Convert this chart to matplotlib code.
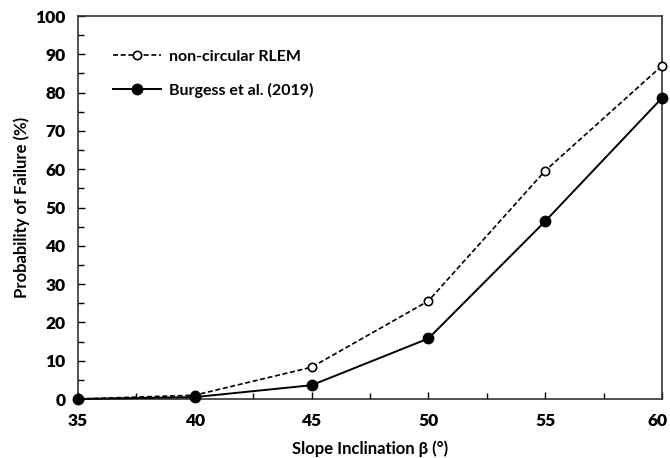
"""Probability of failure vs slope inclination"""

import matplotlib.pyplot as plt
from matplotlib.ticker import MultipleLocator
from matplotlib.transforms import ScaledTranslation

plt.rcParams['font.family'] = ['Lato', 'DejaVu Sans']
plt.rcParams['font.weight'] = 'bold'

slope = [35, 40, 45, 50, 55, 60]
rlem = [0, 1.0, 8.3, 25.6, 59.6, 87.0]
burgess = [0, 0.5, 3.6, 15.8, 46.4, 78.6]

fig = plt.figure(figsize=(6.7, 4.58), dpi=100)
ax = fig.add_axes([0.1164, 0.1288, 0.8716, 0.8362])

ax.plot(slope, rlem, '--', color='black', lw=1.2, dashes=(3, 1.6),
        marker='o', ms=6, mfc='white', mec='black', mew=1.2,
        label='non-circular RLEM', clip_on=False, zorder=3)
ax.plot(slope, burgess, '-', color='black', lw=1.4,
        marker='o', ms=7.5, mfc='black', mec='black',
        label='Burgess et al. (2019)', clip_on=False, zorder=3)

ax.set_xlim(35, 60)
ax.set_ylim(0, 100)
ax.set_xticks(slope)
ax.xaxis.set_minor_locator(MultipleLocator(2.5))
ax.yaxis.set_major_locator(MultipleLocator(10))
ax.yaxis.set_minor_locator(MultipleLocator(5))
ax.tick_params(which='both', direction='in', width=1.0, labelsize=12.5)
ax.tick_params(which='major', length=5)
ax.tick_params(axis='x', which='major', pad=10)
ax.tick_params(axis='y', which='major', pad=9)
ax.tick_params(which='minor', length=4)
ax.tick_params(top=False, right=False)
for s in ax.spines.values():
    s.set_linewidth(1.2)
    s.set_color('#333333')
for lab in ax.get_xticklabels() + ax.get_yticklabels():
    lab.set_fontweight('heavy')

# keep the last x label inside the picture
last = ax.get_xticklabels()[-1]
last.set_transform(last.get_transform() + ScaledTranslation(-0.04, 0, fig.dpi_scale_trans))

ax.set_xlabel('Slope Inclination β (°)', fontsize=12, fontweight='bold', labelpad=8)
ax.set_ylabel('Probability of Failure (%)', fontsize=12, fontweight='bold', labelpad=4)

leg = ax.legend(loc='upper left', bbox_to_anchor=(0.035, 0.95), frameon=False,
                fontsize=11.5, handlelength=3.0, labelspacing=1.2, handletextpad=0.5)
for t in leg.get_texts():
    t.set_fontweight('bold')

fig.savefig('out.png', dpi=100)
